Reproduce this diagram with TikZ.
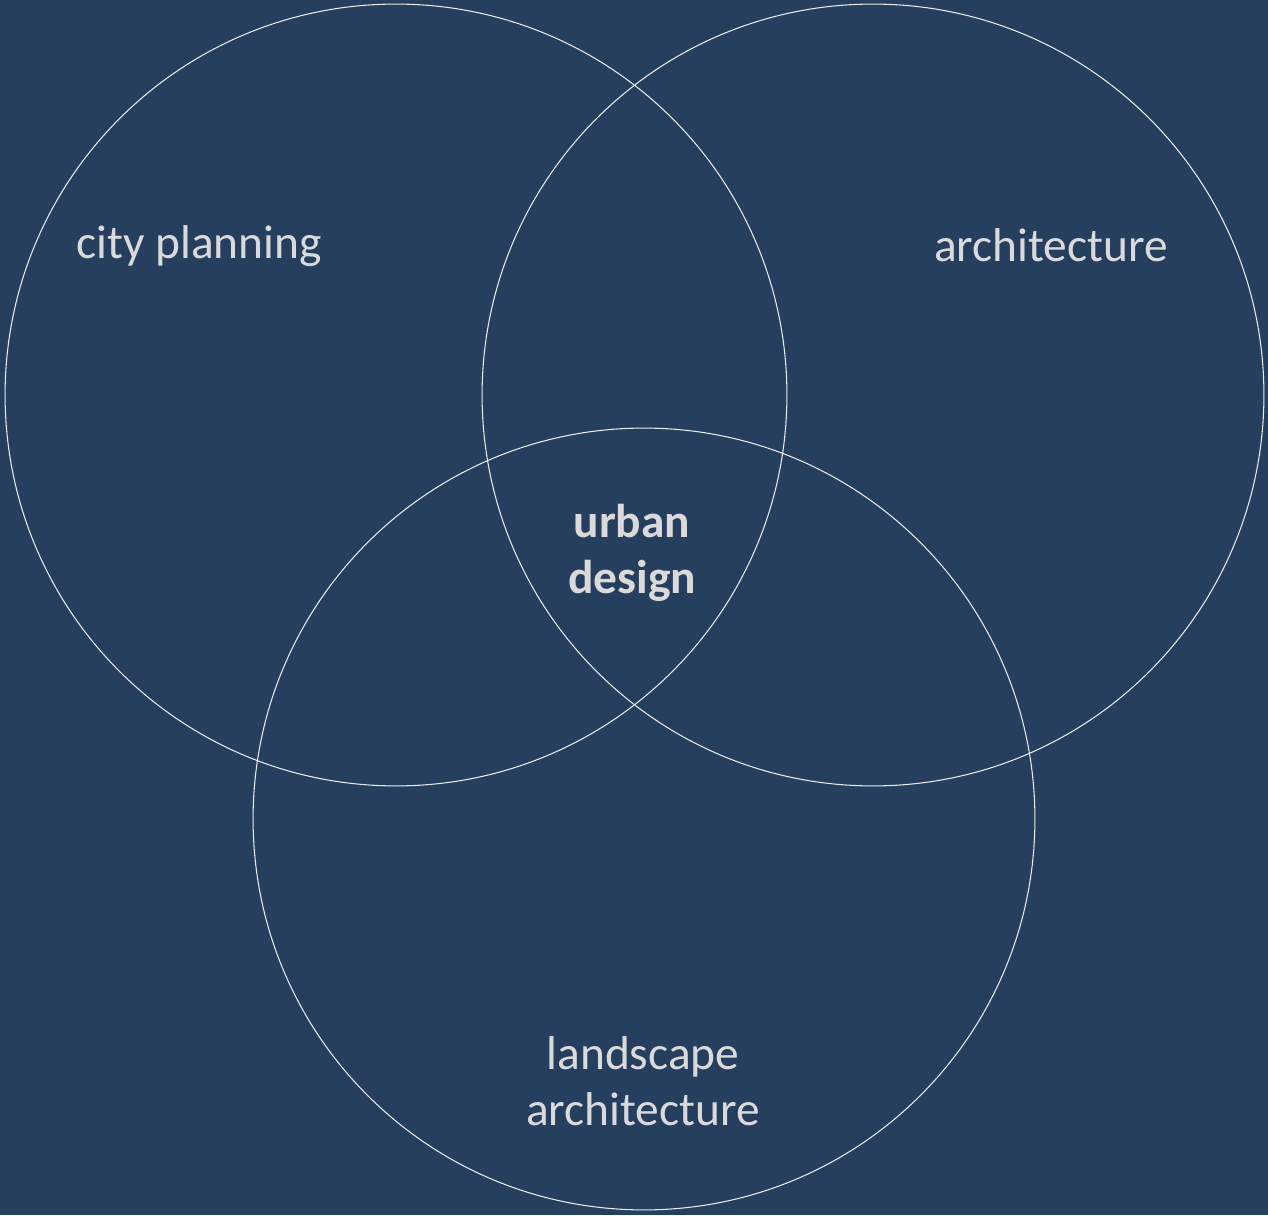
\documentclass[tikz,border=0pt]{standalone}
\usepackage{fontspec}
\setmainfont{Carlito}
\usepackage{xcolor}
\usepackage{tikz}
\usetikzlibrary{positioning}
\definecolor{cnavy}{RGB}{38,63,95}
\definecolor{clight}{RGB}{218,218,218}
\definecolor{cline}{RGB}{235,235,235}

\begin{document}
\begin{tikzpicture}[x=0.02cm, y=0.02cm,
      ring/.style={circle, draw=cline, line width=0.6pt, minimum size=15.64cm, inner sep=0pt},
      lbl/.style={font=\fontsize{27}{32}\selectfont, text=clight, align=center, inner sep=0pt},
      core/.style={lbl, font=\fontsize{27}{32}\selectfont\bfseries}
    ]
    \fill[cnavy] (0,0) rectangle (1268,1215);
    \useasboundingbox (0,0) rectangle (1268,1215);
    % three fields
    \node[ring] (plan) at (396,820) {};
    \node[ring] (arch) at (873,820) {};
    \node[ring] (land) at (644,396) {};
    % labels
    \node[lbl] (planlbl) at (199,969) {city planning};
    \node[lbl] (archlbl) at (1051,970) {architecture};
    \node[lbl] (landlbl) at (643,134) {landscape\\architecture};
    \node[core] (urban) at (632,662) {urban\\design};
  \end{tikzpicture}
\end{document}
